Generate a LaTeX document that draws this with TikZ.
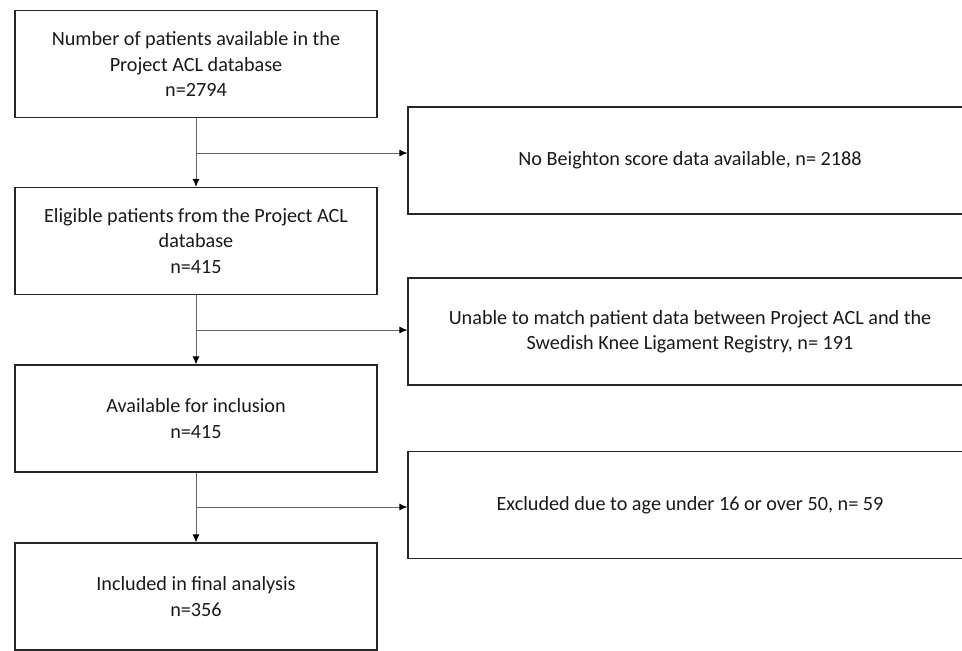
\documentclass[tikz,border=0pt]{standalone}
\usepackage{fontspec}
\setmainfont{Carlito}
\usetikzlibrary{arrows.meta}
\begin{document}
\begin{tikzpicture}[x=1pt,y=-1pt,
  box/.style={draw=black!85,line width=1.2pt,minimum width=362pt,minimum height=107pt,align=center,font=\fontsize{20.2}{25.5}\selectfont,inner sep=0pt,text=black!90},
  rbox/.style={box,minimum width=564pt},
  conn/.style={draw=black!60,line width=0.9pt,-{Latex[length=8pt,width=7pt,fill=black,color=black]}}]
\useasboundingbox (0,0) rectangle (962,651);
\clip (0,0) rectangle (962,651);
\node[box] (a) at (196,64) {Number of patients available in the\\Project ACL database\\n=2794};
\node[box] (b) at (196,241) {Eligible patients from the Project ACL\\database\\n=415};
\node[box] (c) at (196,418.5) {Available for inclusion\\n=415};
\node[box] (d) at (196,596.5) {Included in final analysis\\n=356};
\node[rbox] (r1) at (690,160.5) {No Beighton score data available, n= 2188};
\node[rbox] (r2) at (690,331.5) {Unable to match patient data between Project ACL and the\\Swedish Knee Ligament Registry, n= 191};
\node[rbox] (r3) at (690,505) {Excluded due to age under 16 or over 50, n= 59};
\coordinate (j1) at (196,153);
\coordinate (j2) at (196,330);
\coordinate (j3) at (196,507);
\draw[conn] (a.south) -- (b.north);
\draw[conn] (b.south) -- (c.north);
\draw[conn] (c.south) -- (d.north);
\draw[conn] (j1) -- (j1 -| r1.west);
\draw[conn] (j2) -- (j2 -| r2.west);
\draw[conn] (j3) -- (j3 -| r3.west);
\end{tikzpicture}
\end{document}
